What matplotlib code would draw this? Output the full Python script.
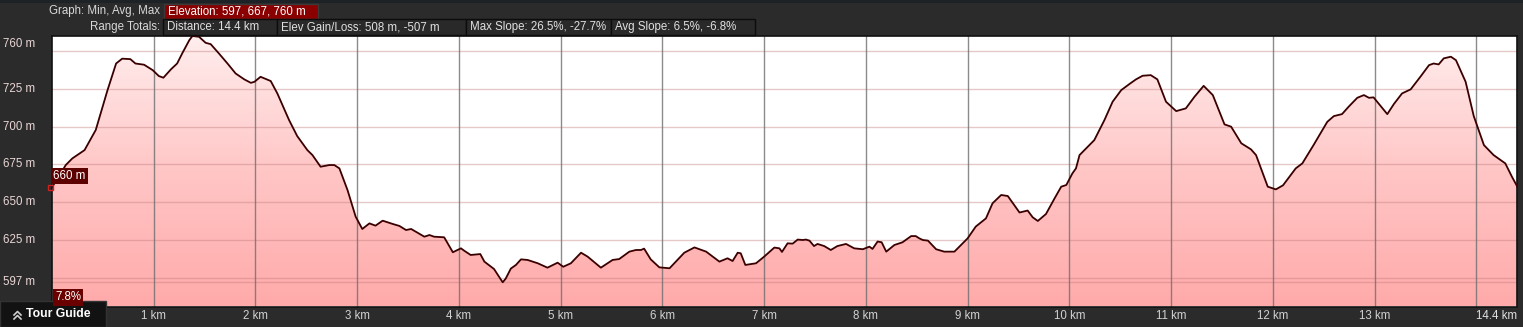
import numpy as np
import matplotlib.pyplot as plt
from matplotlib.patches import Rectangle, Polygon
from matplotlib.colors import LinearSegmentedColormap
from matplotlib import transforms

# elevation profile (distance in km, elevation in m)
dist_km = [0.0, 0.05, 0.135, 0.20, 0.32, 0.43, 0.545, 0.63, 0.69, 0.77, 0.82, 0.905, 0.99,
           1.05, 1.095, 1.17, 1.23, 1.28, 1.35, 1.38, 1.445, 1.51, 1.56, 1.64, 1.725, 1.805,
           1.89, 1.955, 1.99, 2.05, 2.15, 2.215, 2.33, 2.41, 2.51, 2.56, 2.64, 2.725, 2.775,
           2.825, 2.905, 2.985, 3.05, 3.12, 3.18, 3.25, 3.35, 3.415, 3.48, 3.53, 3.66, 3.71,
           3.755, 3.855, 3.94, 4.02, 4.05, 4.115, 4.21, 4.25, 4.345, 4.395, 4.43, 4.46, 4.51,
           4.56, 4.61, 4.675, 4.775, 4.87, 4.97, 5.025, 5.10, 5.20, 5.265, 5.395, 5.51, 5.575,
           5.675, 5.74, 5.79, 5.82, 5.885, 5.97, 6.07, 6.215, 6.315, 6.43, 6.56, 6.64, 6.69,
           6.74, 6.77, 6.815, 6.92, 7.00, 7.10, 7.15, 7.175, 7.23, 7.28, 7.33, 7.38, 7.41,
           7.445, 7.49, 7.525, 7.59, 7.655, 7.72, 7.805, 7.885, 7.97, 8.035, 8.065, 8.115,
           8.155, 8.20, 8.28, 8.36, 8.445, 8.49, 8.525, 8.56, 8.61, 8.69, 8.77, 8.87, 9.00,
           9.08, 9.18, 9.245, 9.33, 9.395, 9.51, 9.59, 9.64, 9.69, 9.77, 9.855, 9.92, 9.97,
           10.03, 10.065, 10.10, 10.165, 10.245, 10.345, 10.425, 10.51, 10.59, 10.655, 10.72,
           10.80, 10.865, 10.95, 11.05, 11.145, 11.23, 11.32, 11.41, 11.525, 11.59, 11.69,
           11.785, 11.835, 11.95, 12.03, 12.10, 12.225, 12.29, 12.40, 12.535, 12.60, 12.68,
           12.745, 12.83, 12.895, 12.945, 12.99, 13.06, 13.125, 13.19, 13.27, 13.355, 13.45,
           13.535, 13.58, 13.63, 13.68, 13.75, 13.80, 13.895, 13.975, 14.075, 14.17, 14.285,
           14.35, 14.40]
elev_m = [660, 665, 674.6, 679, 684.5, 697.8, 724, 741.8, 745, 744.7, 741.8, 741, 737.4,
          733.5, 732.4, 738, 741.8, 748.5, 757.3, 760, 759.5, 755.5, 754.6, 748.5, 741.8, 735.2,
          731.3, 729, 729.7, 733, 730.2, 722, 704.4, 693.8, 684.5, 681.2, 673.5, 674.6, 674.6,
          672.4, 658, 640.4, 632.3, 636, 634.5, 637.8, 635.6, 634.3, 631.6, 632.3, 627.2, 628.3,
          627.2, 626.8, 616.9, 619.5, 618, 615.1, 615.7, 610.7, 605.8, 600.7, 597, 599.5, 606.1,
          608.5, 612.2, 611.8, 609.6, 606.7, 610, 607.3, 609.6, 616.6, 614, 606.7, 611.8, 612.4,
          617.3, 618.4, 618.4, 619.3, 612.2, 606.9, 606.3, 616.6, 620.1, 617.3, 610.7, 612.9, 611.1,
          616.6, 616.2, 608.5, 609.6, 614, 620, 619.5, 617.1, 622.8, 622.6, 625.3, 625, 625.3,
          624.6, 621, 622.4, 621, 618.4, 621, 622.4, 619.5, 618.9, 620.6, 619.1, 624,
          623.5, 617.3, 621.7, 623.5, 627.6, 627.6, 626.1, 625, 624.6, 618.9, 617.3, 617.3, 626.1,
          633.9, 639.3, 649.3, 654.8, 654.1, 643.2, 644.5, 640, 637.6, 642.2, 652.6, 660.3, 661.4,
          669.1, 672.4, 681.2, 685.6, 691.1, 704.4, 716.5, 724.2, 728.2, 731.3, 733.7,
          734.1, 731.3, 716.5, 710.3, 712.1, 719.8, 727, 720.9, 701.5, 700, 689,
          685, 681.2, 660.3, 658.5, 661.2, 672.4, 675.7, 687.8, 703.2, 707, 708.3,
          713.2, 719.1, 720.9, 719.1, 719.4, 713.6, 708.3, 715, 722, 724.7, 733,
          740.7, 741.8, 741.2, 745.2, 746.3, 744, 729.7, 707, 687.8, 681.2, 675.7,
          666.9, 660.7]

km_ticks = [1, 2, 3, 4, 5, 6, 7, 8, 9, 10, 11, 12, 13]
km_grid = km_ticks + [14]
m_grid = [750, 725, 700, 675, 650, 625, 600, 597]
m_labels = [760, 725, 700, 675, 650, 625, 597]

header_row1 = ("Graph: Min, Avg, Max", "Elevation: 597, 667, 760 m")
header_row2 = ["Distance: 14.4 km", "Elev Gain/Loss: 508 m, -507 m",
               "Max Slope: 26.5%, -27.7%", "Avg Slope: 6.5%, -6.8%"]

W, H = 1523, 327
X0, X1, Y0, Y1 = 0.0, 14.4, 581, 760
FS = 8.3
plt.rcParams['font.family'] = ['Liberation Sans', 'DejaVu Sans']

fig = plt.figure(figsize=(W / 100, H / 100), dpi=100, facecolor='#2b2b2b')


def fx(px):
    return px / W


def fy(py):
    return 1 - py / H


def fig_box(x0, y0, x1, y1, fc, ec, lw=1.0):
    fig.patches.append(Rectangle((fx(x0), fy(y1)), fx(x1 - x0), (y1 - y0) / H,
                                 transform=fig.transFigure, fc=fc, ec=ec, lw=lw))


# top strip of the map behind
fig_box(0, 0, W, 3, '#1d2226', 'none')

ax = fig.add_axes([fx(52), fy(306.5), (1517 - 52) / W, (306.5 - 36) / H])
ax.set_xlim(X0, X1)
ax.set_ylim(Y0, Y1)
ax.set_facecolor('white')
ax.set_xticks([])
ax.set_yticks([])
for s in ax.spines.values():
    s.set_color('#111111')
    s.set_linewidth(1.2)

# gradient fill under the profile
verts = [(X0, Y0)] + list(zip(dist_km, elev_m)) + [(X1, Y0)]
clip = Polygon(verts, closed=True, transform=ax.transData, fc='none', ec='none')
ax.add_patch(clip)
cmap = LinearSegmentedColormap.from_list('pink', ['#ffaaaa', '#ffc6c6', '#ffeeee'])
grad = np.linspace(0, 1, 256).reshape(-1, 1)
im = ax.imshow(grad, extent=[X0, X1, Y0, Y1], origin='lower', aspect='auto',
               cmap=cmap, zorder=1, interpolation='bilinear')
im.set_clip_path(clip)

for m in m_grid:
    ax.axhline(m, color='#c07a7a', alpha=0.4, lw=1, zorder=2)
for k in km_grid:
    ax.axvline(k, color='#6e6e6e', alpha=0.8, lw=1, zorder=2)

ax.plot(dist_km, elev_m, color='#3a0000', lw=1.3, zorder=3)

# y labels on the left
ytr = transforms.blended_transform_factory(fig.transFigure, ax.transData)
for m in m_labels:
    if m == Y1:
        ax.text(fx(3), m - 1.5, f"{m} m", transform=ytr, color='#ead6d6',
                fontsize=FS, ha='left', va='top')
    else:
        ax.text(fx(3), m, f"{m} m", transform=ytr, color='#ead6d6',
                fontsize=FS, ha='left', va='center')

# x labels below
xtr = transforms.blended_transform_factory(ax.transData, fig.transFigure)
for k in km_ticks:
    ax.text(k, fy(316), f"{k} km", transform=xtr, color='#d2d2d2',
            fontsize=FS, ha='center', va='center')
fig.text(fx(1517), fy(316), "14.4 km", color='#e0e0e0', fontsize=FS, ha='right', va='center')

# header boxes
fig.text(fx(160), fy(11), header_row1[0], color='#d8d8d8', fontsize=FS, ha='right', va='center')
fig_box(164, 4, 318, 19, '#8a0000', '#3a3a3a')
fig.text(fx(168), fy(11.5), header_row1[1], color='white', fontsize=FS, ha='left', va='center')

fig.text(fx(160), fy(27), "Range Totals:", color='#d8d8d8', fontsize=FS, ha='right', va='center')
edges = [163, 277, 466, 611, 755]
for i, label in enumerate(header_row2):
    fig_box(edges[i], 19, edges[i + 1], 35, '#292929', '#0c0c0c')
    fig.text(fx(edges[i] + 4), fy(27), label, color='#e0e0e0', fontsize=FS,
             ha='left', va='center')

# value markers at the start of the profile
fig.text(fx(53), fy(176), "660 m", color='white', fontsize=FS, ha='left', va='center',
         bbox=dict(boxstyle='square,pad=0.2', fc='#5c0000', ec='none'))
fig.patches.append(Rectangle((fx(48), fy(190)), fx(5), 5 / H, transform=fig.transFigure,
                             fc='none', ec='#d02020', lw=1))
fig.text(fx(55), fy(297.5), "7.8%", color='white', fontsize=FS, ha='left', va='center',
         bbox=dict(boxstyle='square,pad=0.2', fc='#6a0000', ec='none'))

# tour guide tab
fig_box(0, 301, 106, 327, '#121212', '#333333')
for dy in (0, 4):
    fig.lines.append(plt.Line2D([fx(14), fx(17.5), fx(21)],
                                [fy(315 + dy), fy(311.5 + dy), fy(315 + dy)],
                                transform=fig.transFigure, color='#cfcfcf', lw=1.2))
fig.text(fx(26), fy(314), "Tour Guide", color='white', fontsize=8.8, fontweight='bold',
         ha='left', va='center')

fig.savefig('out.png', dpi=100, facecolor=fig.get_facecolor())
